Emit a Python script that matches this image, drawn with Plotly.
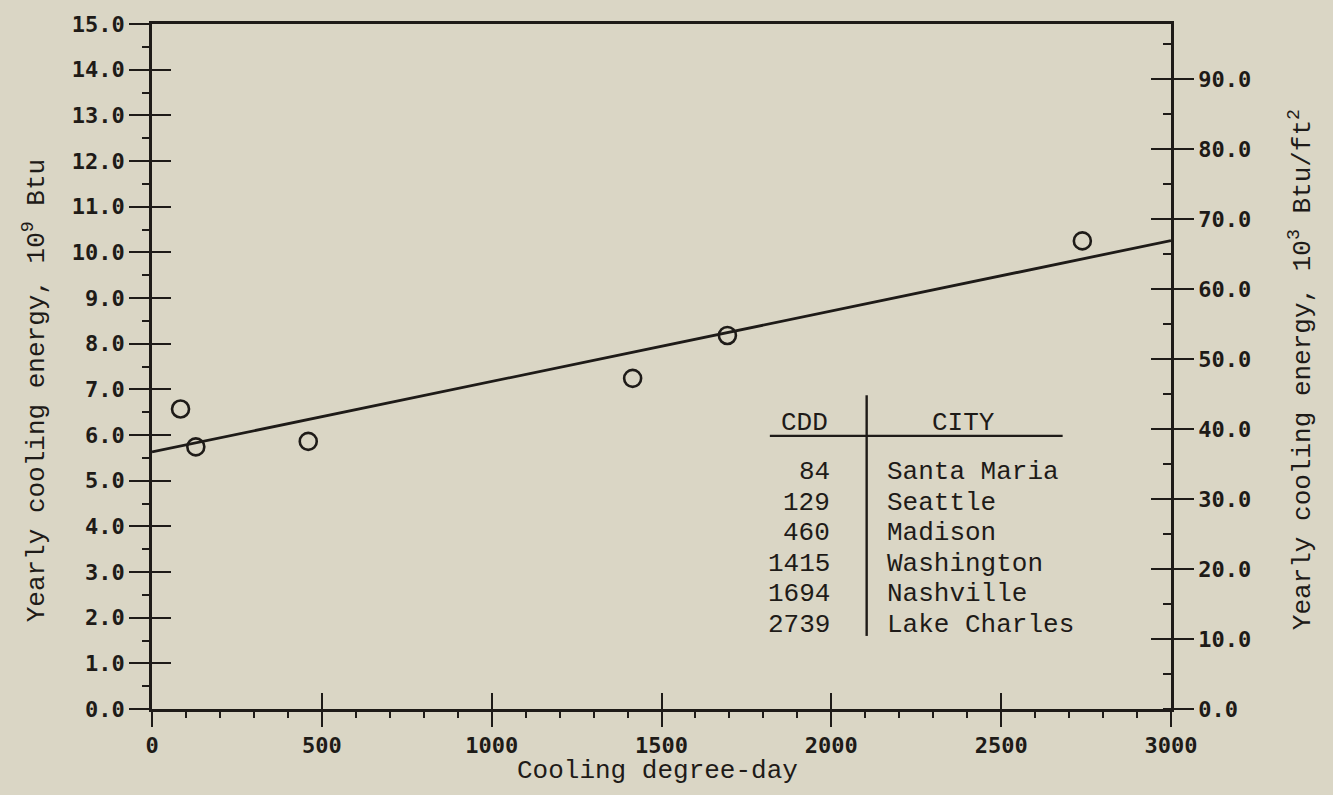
import numpy as np
import plotly.graph_objects as go

# Cooling degree-days and simulated yearly cooling energy for six cities
cdd = [84, 129, 460, 1415, 1694, 2739]
cities = ["Santa Maria", "Seattle", "Madison", "Washington", "Nashville", "Lake Charles"]
energy_gbtu = [6.57, 5.74, 5.86, 7.24, 8.18, 10.25]   # 10^9 Btu

# 10^9 Btu -> 10^3 Btu/ft^2 for the building floor area
KBTU_PER_FT2_PER_GBTU = 6.527

x_ticks = [0, 500, 1000, 1500, 2000, 2500, 3000]
left_ticks = [0, 1, 2, 3, 4, 5, 6, 7, 8, 9, 10, 11, 12, 13, 14, 15]
right_ticks = [0, 10, 20, 30, 40, 50, 60, 70, 80, 90]

X_RANGE = [0, 3000]
Y_RANGE = [0, 15]
Y2_RANGE = [0, 15 * KBTU_PER_FT2_PER_GBTU]

BG = "#dad6c5"
INK = "#1e1b18"
TICK_FONT = dict(family="DejaVu Sans Mono", size=22, color=INK, weight="bold")
TEXT_FONT = dict(family="Liberation Mono", size=26, color=INK)

# least-squares line through the six points
slope, intercept = np.polyfit(cdd, energy_gbtu, 1)
fit_x = np.array(X_RANGE, dtype=float)
fit_y = intercept + slope * fit_x

fig = go.Figure()

fig.add_trace(go.Scatter(
    x=fit_x, y=fit_y, mode="lines",
    line=dict(color=INK, width=2.8), hoverinfo="skip", showlegend=False,
))
fig.add_trace(go.Scatter(
    x=cdd, y=energy_gbtu, mode="markers",
    marker=dict(symbol="circle-open", size=17, color=INK, line=dict(width=2.6, color=INK)),
    showlegend=False,
))

axis_common = dict(showgrid=False, zeroline=False, tickcolor=INK, tickwidth=2.4)

fig.update_layout(
    width=1333, height=795,
    margin=dict(l=152, r=162, t=16, b=86),
    paper_bgcolor=BG, plot_bgcolor=BG,
    showlegend=False,
    xaxis=dict(
        range=X_RANGE, tickvals=x_ticks, ticktext=[str(v) for v in x_ticks],
        ticks="outside", ticklen=15, tickfont=TICK_FONT,
        showline=True, linecolor=INK, linewidth=2.6, mirror=True,
        minor=dict(dtick=100, ticks="outside", ticklen=6, tickwidth=2, tickcolor=INK, showgrid=False),
        **axis_common,
    ),
    xaxis2=dict(
        range=X_RANGE, overlaying="x", anchor="y", side="bottom",
        tickvals=x_ticks, ticks="inside", ticklen=16, showticklabels=False,
        showline=False, **axis_common,
    ),
    yaxis=dict(
        range=Y_RANGE, tickvals=left_ticks, tickformat=".1f",
        ticks="outside", ticklen=20, tickfont=TICK_FONT,
        showline=True, linecolor=INK, linewidth=2.6,
        minor=dict(dtick=0.5, ticks="outside", ticklen=7, tickwidth=2, tickcolor=INK, showgrid=False),
        **axis_common,
    ),
    yaxis3=dict(
        range=Y_RANGE, overlaying="y", anchor="x", side="left",
        tickvals=left_ticks, ticks="inside", ticklen=19, showticklabels=False,
        showline=False, **axis_common,
    ),
    yaxis2=dict(
        range=Y2_RANGE, overlaying="y", anchor="x", side="right",
        tickvals=right_ticks, tickformat=".1f",
        ticks="outside", ticklen=20, tickfont=TICK_FONT,
        showline=True, linecolor=INK, linewidth=2.6,
        minor=dict(dtick=5, ticks="inside", ticklen=8, tickwidth=2, tickcolor=INK, showgrid=False),
        **axis_common,
    ),
    yaxis4=dict(
        range=Y2_RANGE, overlaying="y", anchor="x", side="right",
        tickvals=right_ticks, ticks="inside", ticklen=20, showticklabels=False,
        showline=False, **axis_common,
    ),
)

# empty traces so the overlay axes are drawn
fig.add_trace(go.Scatter(x=[None], y=[None], xaxis="x2", yaxis="y", showlegend=False, hoverinfo="skip"))
fig.add_trace(go.Scatter(x=[None], y=[None], xaxis="x", yaxis="y3", showlegend=False, hoverinfo="skip"))
fig.add_trace(go.Scatter(x=[None], y=[None], xaxis="x", yaxis="y2", showlegend=False, hoverinfo="skip"))
fig.add_trace(go.Scatter(x=[None], y=[None], xaxis="x", yaxis="y4", showlegend=False, hoverinfo="skip"))

annotations = []
# axis titles
annotations.append(dict(
    text="Yearly cooling energy, 10<sup>9</sup> Btu", xref="paper", yref="paper",
    x=-0.114, y=0.465, textangle=-90, showarrow=False, font=TEXT_FONT,
    xanchor="center", yanchor="middle",
))
annotations.append(dict(
    text="Yearly cooling energy, 10<sup>3</sup> Btu/ft<sup>2</sup>", xref="paper", yref="paper",
    x=1.1275, y=0.496, textangle=-90, showarrow=False, font=TEXT_FONT,
    xanchor="center", yanchor="middle",
))
annotations.append(dict(
    text="Cooling degree-day", xref="paper", yref="paper",
    x=0.496, y=-0.091, showarrow=False, font=TEXT_FONT,
    xanchor="center", yanchor="middle",
))

# inset table of cities
header_y = 6.27
row0_y = 5.19
row_step = 0.67
num_right_x = 2001
city_left_x = 2158
annotations.append(dict(text="CDD", x=1922, y=header_y, xref="x", yref="y",
                        showarrow=False, font=TEXT_FONT, xanchor="center", yanchor="middle"))
annotations.append(dict(text="CITY", x=2388, y=header_y, xref="x", yref="y",
                        showarrow=False, font=TEXT_FONT, xanchor="center", yanchor="middle"))
for i, (c, name) in enumerate(zip(cdd, cities)):
    yy = row0_y - i * row_step
    annotations.append(dict(text=str(c), x=num_right_x, y=yy, xref="x", yref="y",
                            showarrow=False, font=TEXT_FONT, xanchor="right", yanchor="middle"))
    annotations.append(dict(text=name, x=city_left_x, y=yy, xref="x", yref="y",
                            showarrow=False, font=TEXT_FONT, xanchor="left", yanchor="middle"))
fig.update_layout(annotations=annotations)

fig.add_shape(type="line", xref="x", yref="y", x0=1819, x1=2681, y0=5.98, y1=5.98,
              line=dict(color=INK, width=2.2))
fig.add_shape(type="line", xref="x", yref="y", x0=2104, x1=2104, y0=6.87, y1=1.60,
              line=dict(color=INK, width=2.4))

fig.write_html("out.html")
